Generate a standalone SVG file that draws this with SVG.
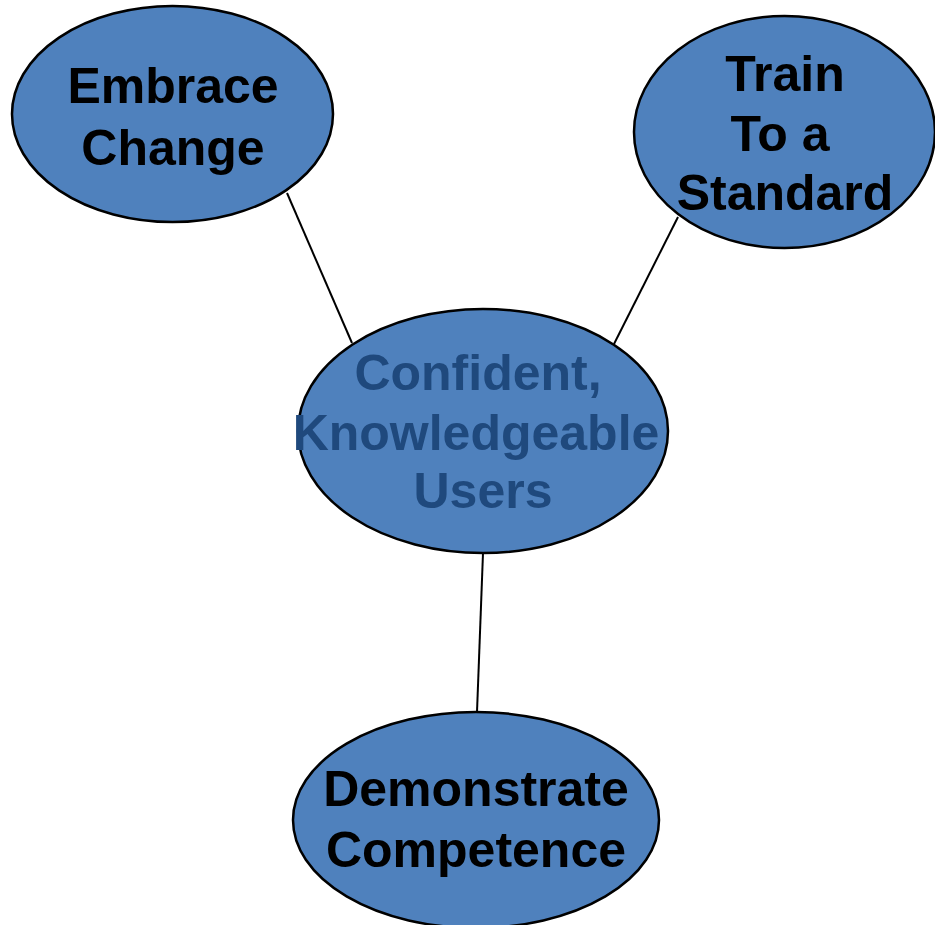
<svg xmlns="http://www.w3.org/2000/svg" width="935" height="925" viewBox="0 0 935 925">
<style>
.node{fill:#4F81BD;stroke:#000;stroke-width:2.5}
.lbl{font-family:"Liberation Sans",Arial,sans-serif;font-weight:bold;font-size:50px;text-anchor:middle;fill:#000}
.lbl.c{fill:#1F497D}
.edge{stroke:#000;stroke-width:2;fill:none}
</style>
<rect width="935" height="925" fill="#fff"/>
<g id="connectors">
<line class="edge" x1="287" y1="193" x2="352" y2="343"/>
<line class="edge" x1="678" y1="217" x2="614" y2="344"/>
<line class="edge" x1="483" y1="553" x2="477" y2="712"/>
</g>
<g id="embrace">
<ellipse class="node" cx="172.5" cy="114" rx="160.5" ry="108"/>
<text class="lbl" x="173" y="103">Embrace</text>
<text class="lbl" x="173" y="165">Change</text>
</g>
<g id="train">
<ellipse class="node" cx="784.5" cy="132" rx="150.5" ry="116"/>
<text class="lbl" x="785" y="91">Train</text>
<text class="lbl" x="780" y="151">To a</text>
<text class="lbl" x="785" y="210">Standard</text>
</g>
<g id="center">
<ellipse class="node" cx="483" cy="431" rx="185" ry="122"/>
<text class="lbl c" x="478" y="390">Confident,</text>
<text class="lbl c" x="476" y="450">Knowledgeable</text>
<text class="lbl c" x="483" y="508">Users</text>
</g>
<g id="demonstrate">
<ellipse class="node" cx="476" cy="820" rx="183" ry="108"/>
<text class="lbl" x="476" y="806">Demonstrate</text>
<text class="lbl" x="476" y="867">Competence</text>
</g>
</svg>
